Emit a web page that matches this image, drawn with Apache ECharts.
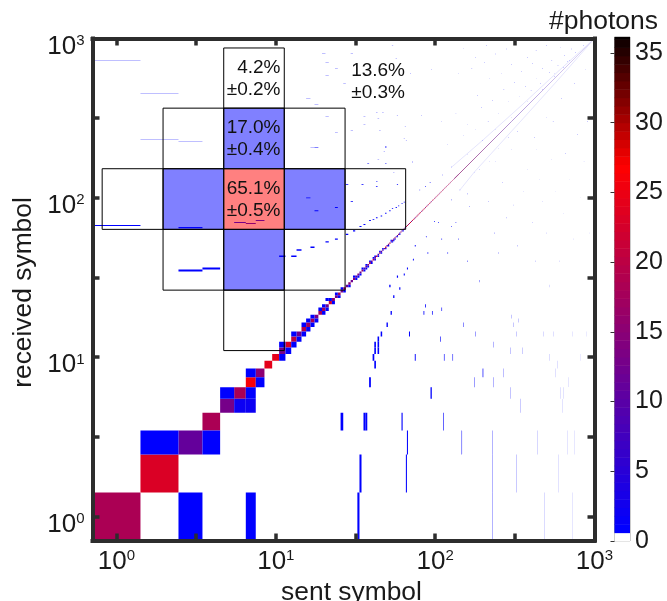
<!DOCTYPE html>
<html>
<head>
<meta charset="utf-8">
<style>html,body{margin:0;padding:0;background:#fff}#c{width:667px;height:601px}</style>
<script src="https://cdn.jsdelivr.net/npm/echarts@6/dist/echarts.min.js"></script>
</head>
<body>
<div id="c"></div>
<script>
// photons per diagonal symbol, index 0 is symbol 1
const diagonalCounts = [18,23,11,18,13,18,26,15,24,24,13,23,20,12,19,17,18,13,17,18,12,22,16,12,17,13,18,11,16,12,
  15,10,14,12,16,9,13,14,18,11,20,14,22,7,19,12,8,15,21,9,14,18,7,16,11,20,6,13,15,8,17,9,12,14,8,
  18,21,16,19,23,14,20,24,17,12,22,19,15,25,18,21,13,20,16,24,19,14,22,18,11,20,23,16,19,13,21,17,24,15,19,
  18,14,22,17,20,12,19,23,15,18,21,13,20,17,16,22,14,19,18,12,21,16,20,15,18,13,19,17,22,14,18,16,12,20,15,17,13,18,14,16];
// off-diagonal cells: sent, received, photons
const lowSymbolCells = [[3,1,1],[7,1,1],[33,1,1],[2,3,1],[4,3,1],[6,5,2],[7,5,2],[5,6,1],[7,6,1],[8,7,1],[7,8,1],
  [11,10,1],[12,11,1],[11,12,1],[13,12,1],[14,13,1],[13,14,1],[15,14,1],[16,15,1],[15,16,1],[17,16,1],[16,17,1],[18,17,1],[17,18,1],
  [20,19,1],[19,20,1],[21,20,1],[20,21,1],[23,22,1],[22,23,1],[21,23,1],[25,24,1],[24,25,1],[27,26,1],[26,27,1],[29,28,1],
  [31,32,1],[32,31,1],[33,32,1],[34,33,1],[35,36,1],[36,35,1],[37,36,1],[38,37,1],[37,38,1],[40,39,1],[39,40,1],[41,42,1],[42,41,1],[42,43,1],
  [44,43,1],[46,45,1],[45,46,1],[47,48,1],[49,48,1],[51,50,1],[54,53,1],[53,54,1],[55,54,1],[56,55,1],[58,57,1],[60,59,1],[63,62,1]];
const firstSymbolCells = [[1,67,1],[3,65,1],[3,35,1],[4,36,1],[6,70,13],[7,69,16],[8,72,14],
  [1,726,1],[2,765,1],[3,738,1],[4,692,1],[4,910,1],[4,863,1],[2,452,1],[2,450,1],[3,489,1],[3,470,1],[2,232,1],[3,226,1],
  [20,809,1],[19,680,1],[21,703,1],[16,612,1],[21,589,1],[24,649,1],[24,603,1],[27,521,1],[16,458,1],[16,421,1],[22,414,1],[18,385,1],[21,325,1],[24,257,1],[18,207,1]];
const upperBranchCells = [[11,43,1],[13,43,1],[14,47,1],[17,49,1],[21,53,1],[24,55,1],[28,59,1],[31,62,1],[34,66,1],[36,68,1],[39,72,1],[41,73,1],[43,75,1],[46,77,1],[49,80,1],[52,83,1],
  [54,86,1],[57,87,1],[59,89,1],[62,92,1],[64,94,1],[16,100,1],[18,83,1],[24,87,1],[43,127,1],[43,118,1],[35,121,1],[28,121,1],[30,95,1],[55,145,1],[58,121,1],[17,208,1],[49,210,1]];
const lowerBranchCells = [[75,50,1],[73,41,1],[67,36,1],[64,33,1],[58,32,1],[60,27,1],[52,28,1],[55,24,1],[53,19,1],[50,16,1],[46,14,1],[44,13,1],[44,12,1],[42,12,1],[42,11,1],[44,11,1],[41,10,1],[42,9,1],[39,7,1],[26,4,1],[36,4,1],[37,4,1],[62,4,1],[113,4,1],
  [34,2,1],[66,2,1],[67,3,1],[147,3,1],[229,1,1],[229,2,1],[229,3,1],[486,1,1],[731,1,1],[325,2,1],[596,2,1],[440,3,1],[678,3,1],[750,3,1],
  [342,5,1],[627,5,1],[94,6,1],[95,6,1],[296,6,1],[613,6,1],[637,6,1],[177,7,1],[233,7,1],[688,7,1],[199,8,1],[200,8,1],[269,8,1],[568,8,1],[585,9,1],[75,10,1],[114,10,1],[129,10,1],[523,10,1],[818,10,1],
  [298,11,1],[354,11,1],[232,12,1],[108,13,1],[69,14,1],[179,14,1],[325,14,1],[480,14,1],[554,14,1],[730,14,1],[896,14,1],[151,16,1],[310,16,1],[85,19,1],[96,19,1],[300,18,1],[334,17,1],[110,20,1],[87,21,1],
  [88,57,1],[99,71,1],[127,97,1],[143,112,1],[176,145,1],[127,66,1],[160,106,1],[90,45,1],[110,55,1],[135,70,1],[165,88,1],[190,150,1],[220,170,1],[250,205,1],[290,240,1]];
const sparseCells = [[30,809],[32,790],[43,345],[47,345],[36,325],[36,290],[44,315],[45,265],[30,263],[49,207],[48,195],[44,175],[38,165],[49,165],[72,168],[54,905],[72,850],[78,700],[57,750],[70,600],[75,520],[66,230],[82,330],[58,330],[65,280],[64,235],
  [80,112],[93,125],[111,139],[127,156],[160,186],[199,230],[87,118],[100,900],[120,820],[150,870],[180,760],[210,900],[95,640],[115,690],[140,600],[170,650],[205,710],[240,800],[280,860],[320,920],[380,760],[430,840],[500,900],[610,880],
  [105,480],[125,420],[150,520],[185,440],[220,560],[260,600],[300,690],[350,620],[410,700],[470,650],[540,730],[650,780],[720,860],[110,300],[135,340],[160,290],[195,370],[230,410],[270,480],[315,530],[370,500],[430,560],[520,610],[590,680],[680,720],
  [120,215],[150,245],[180,270],[215,300],[250,340],[290,400],[340,430],[400,470],[460,520],[560,600],[640,660],[760,820],[850,900],[240,270],[300,320],[380,400],[470,480],[560,575],[700,730],
  [105,70],[120,45],[140,55],[160,40],[190,30],[215,95],[235,60],[250,45],[265,125],[280,75],[310,90],[330,50],[360,110],[380,150],[410,70],[425,40],[450,130],[470,95],[500,60],[520,28],[540,175],[570,110],[600,40],[640,80],[660,190],[700,130],[740,55],[780,250],[820,100],[860,170],[900,300],[930,60],
  [240,170],[300,200],[330,260],[420,240],[500,320],[620,420],[750,520],[880,640],[550,300],[430,200]];
// trace lines of the densest, unresolved part of the histogram: sent, received
const diagonalTrace = [[132,132],[300,300],[600,600],[1000,1000]];
const upperStreak = [[127,156],[199,230],[343,375],[600,630],[1000,1000]];
const lowerStreak = [[143,112],[176,145],[358,316],[600,560],[1000,1000]];
// boxes: column, row, share tier (2 centre, 1 neighbour, 0 outer)
const boxEdgesSent = [0.813,1.96,4.71,11.3,27.2,65.3];
const boxEdgesReceived = [11.0,26.35,63.4,152.3,365.5,872];
const boxCells = [[2,4,0],[1,3,0],[2,3,1],[3,3,0],[0,2,0],[1,2,1],[2,2,2],[3,2,1],[4,2,0],[1,1,0],[2,1,1],[3,1,0],[2,0,0]];
const boxLabels = [["4.2%\n±0.2%",280.5,79],["17.0%\n±0.4%",280.5,138.5],["65.1%\n±0.5%",280.5,200],["13.6%\n±0.3%",405,81.5]];
const decadeTicks = [1,10,100,1000];
const allTicks = [1,3.1623,10,31.623,100,316.23,1000];
const colorTicks = [0,5,10,15,20,25,30,35];

const FONT = '"Liberation Sans", Arial, sans-serif';
const INK = '#1a1a1a', SPINE = '#2d2d2d';
const COLOR_MAX = 36.15, COLOR_RED = 26.6, COLOR_STEP = 0.6;
function colorOf(v){
  if (v < COLOR_STEP) return '#ffffff';
  const q = Math.floor(v / COLOR_STEP) * COLOR_STEP;
  if (q <= COLOR_RED){ const t = (q - COLOR_STEP) / (COLOR_RED - COLOR_STEP); return `rgb(${Math.round(255*t)},0,${Math.round(255*(1-t))})`; }
  const t = Math.min(1, (q - COLOR_RED) / (COLOR_MAX - COLOR_RED)); return `rgb(${Math.round(255*(1-t))},0,0)`;
}
const lower = n => n === 1 ? Math.SQRT1_2 : Math.sqrt(n*(n-1));
const upper = n => Math.sqrt(n*(n+1));
const cells = [].concat(
  diagonalCounts.map((c,i)=>[i+1,i+1,c]), lowSymbolCells, firstSymbolCells, upperBranchCells, lowerBranchCells,
  sparseCells.map(p=>[p[0],p[1],1]));
const colorLevels = [];
for (let v = 0; v < COLOR_MAX; v += COLOR_STEP) colorLevels.push([v, Math.min(v+COLOR_STEP, COLOR_MAX)]);

function renderCell(params, api){
  const sx = api.value(0), sy = api.value(1);
  const a = api.coord([lower(sx), upper(sy)]), b = api.coord([upper(sx), lower(sy)]);
  let w = b[0]-a[0], h = b[1]-a[1], x = a[0], y = a[1];
  if (w < 1 && h < 1 && Math.max(w,h) < 0.42){ const s = 0.42; x -= (s-w)/2; y -= (s-h)/2; w = s; h = s; }
  return {type:'rect', shape:{x,y,width:w,height:h}, style:{fill:colorOf(api.value(2))}};
}
function boxRect(api){
  const c = api.value(0), r = api.value(1);
  const a = api.coord([boxEdgesSent[c], boxEdgesReceived[r+1]]), b = api.coord([boxEdgesSent[c+1], boxEdgesReceived[r]]);
  return {x:a[0], y:a[1], width:b[0]-a[0], height:b[1]-a[1]};
}
const tierFill = ['rgba(255,255,255,0)','#8080ff','#ff8080'];
const tickLabel = v => `{b|10}{s|${Math.round(Math.log10(v))}}`;
const tickRich = {b:{fontSize:26,fontFamily:FONT,color:INK}, s:{fontSize:15,fontFamily:FONT,color:INK,verticalAlign:'top',padding:[0,0,11,0]}};
const logAxis = (extra) => Object.assign({
  type:'log', logBase:10, min:Math.SQRT1_2, max:1000, z:8, gridIndex:0, splitLine:{show:false}, minorTick:{show:false}, minorSplitLine:{show:false},
  axisLine:{show:true,onZero:false,lineStyle:{color:SPINE,width:4,cap:'square'}},
  axisTick:{show:true,inside:true,length:7,lineStyle:{color:SPINE,width:3.5},customValues:allTicks},
  axisLabel:{show:false}
}, extra);
const nameStyle = {fontSize:26.4,fontFamily:FONT,color:INK};

const chart = echarts.init(document.getElementById('c'), null, {renderer:'canvas'});
chart.setOption({
  animation:false, backgroundColor:'#fff',
  title:{text:'#photons',right:4,top:3,textStyle:{fontSize:26.5,fontWeight:'normal',fontFamily:FONT,color:INK}},
  grid:[{left:92.5,top:38.5,width:502,height:502,containLabel:false,outerBoundsMode:'none'},
        {left:614.5,top:37,width:15.5,height:504,show:true,borderColor:'#999',borderWidth:1,containLabel:false,outerBoundsMode:'none'}],
  xAxis:[
    logAxis({position:'bottom',name:'sent symbol',nameLocation:'middle',nameGap:34,nameTextStyle:Object.assign({padding:[0,0,0,16]},nameStyle),
      axisLabel:{show:true,customValues:decadeTicks,formatter:tickLabel,rich:tickRich,margin:8,hideOverlap:false,showMinLabel:true,showMaxLabel:true}}),
    logAxis({position:'top'}),
    {type:'value',gridIndex:1,min:0,max:1,show:false}
  ],
  yAxis:[
    logAxis({position:'left',name:'received symbol',nameLocation:'middle',nameGap:54,nameTextStyle:Object.assign({padding:[0,6,0,0]},nameStyle),
      axisLabel:{show:true,customValues:decadeTicks,formatter:tickLabel,rich:tickRich,margin:8,padding:[16,0,0,0],hideOverlap:false,showMinLabel:true,showMaxLabel:true}}),
    logAxis({position:'right'}),
    {type:'value',gridIndex:1,position:'right',min:0,max:COLOR_MAX,z:8,splitLine:{show:false},
      axisLine:{show:false},
      axisTick:{show:true,inside:true,length:4,lineStyle:{color:'#333',width:1},customValues:colorTicks},
      axisLabel:{show:true,customValues:colorTicks,fontSize:25,fontFamily:FONT,color:INK,margin:5,hideOverlap:false}}
  ],
  series:[
    {type:'custom',name:'box fill',xAxisIndex:0,yAxisIndex:0,z:1,silent:true,clip:true,encode:{x:[],y:[]},data:boxCells,
      renderItem:(p,api)=>({type:'rect',shape:boxRect(api),style:{fill:tierFill[api.value(2)]}})},
    {type:'custom',name:'photons',xAxisIndex:0,yAxisIndex:0,z:2,silent:true,clip:true,encode:{x:0,y:1},data:cells,renderItem:renderCell},
    {type:'line',name:'upper streak',xAxisIndex:0,yAxisIndex:0,z:2,silent:true,showSymbol:false,symbol:'none',data:upperStreak,lineStyle:{width:1,color:'#7070f0',opacity:0.18}},
    {type:'line',name:'lower streak',xAxisIndex:0,yAxisIndex:0,z:2,silent:true,showSymbol:false,symbol:'none',data:lowerStreak,lineStyle:{width:1,color:'#7070f0',opacity:0.18}},
    {type:'line',name:'diagonal',xAxisIndex:0,yAxisIndex:0,z:2,silent:true,showSymbol:false,symbol:'none',data:diagonalTrace,
      lineStyle:{width:1,color:new echarts.graphic.LinearGradient(0,1,1,0,[{offset:0,color:'#a85090'},{offset:0.45,color:'#b8a0dc'},{offset:1,color:'#e4e0fa'}])}},
    {type:'custom',name:'box outline',xAxisIndex:0,yAxisIndex:0,z:3,silent:true,clip:true,encode:{x:[],y:[]},data:boxCells,
      renderItem:(p,api)=>({type:'rect',shape:boxRect(api),style:{fill:'none',stroke:'#000',lineWidth:1}})},
    {type:'custom',name:'colour bar',xAxisIndex:2,yAxisIndex:2,z:2,silent:true,encode:{y:[0,1]},data:colorLevels,
      renderItem:(p,api)=>{
        const a = api.coord([0,api.value(1)]), b = api.coord([1,api.value(0)]);
        return {type:'rect',shape:{x:a[0],y:a[1],width:b[0]-a[0],height:b[1]-a[1]+0.5},style:{fill:colorOf(api.value(0)+0.01)}};
      }}
  ],
  graphic:boxLabels.map(l=>({type:'text',x:l[1],y:l[2],z:20,silent:true,
    style:{text:l[0],font:'19px '+FONT,fill:'#111',textAlign:'right',textVerticalAlign:'middle',lineHeight:22}}))
});
</script>
</body>
</html>
